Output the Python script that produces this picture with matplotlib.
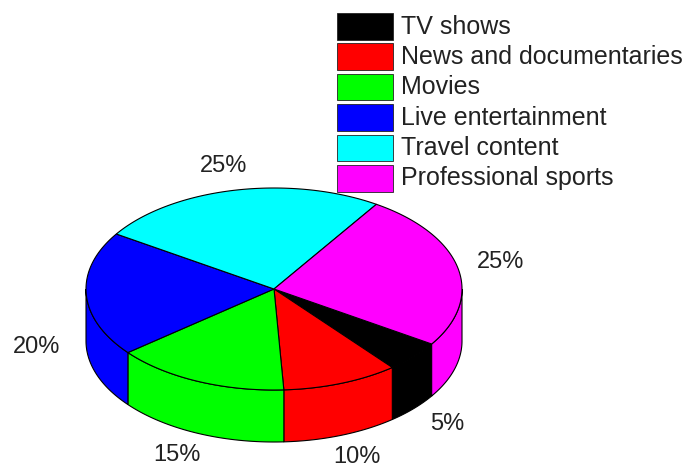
import numpy as np
import matplotlib.pyplot as plt
from matplotlib.patches import Polygon, Rectangle

plt.rcParams['font.family'] = ['Liberation Sans', 'DejaVu Sans']

CATEGORIES = ['TV shows', 'News and documentaries', 'Movies',
              'Live entertainment', 'Travel content', 'Professional sports']
VALUES = [5, 10, 15, 20, 25, 25]
COLORS = ['#000000', '#ff0000', '#00ff00', '#0000ff', '#00ffff', '#ff00ff']
LABEL_POS = [(447, 424), (357, 457), (177, 455), (37, 347), (224, 166), (501, 262)]

CX, CY = 274, 289
RX, RY = 188, 101
DEPTH = 52
START = -33
TEXT_COLOR = '#222222'


def arc(a0, a1, n=80):
    t = np.radians(np.linspace(a0, a1, n))
    return CX + RX * np.cos(t), CY - RY * np.sin(t)


fig = plt.figure(figsize=(6.86, 4.68), dpi=100)
ax = fig.add_axes([0, 0, 1, 1])
ax.set_xlim(0, 686)
ax.set_ylim(468, 0)
ax.axis('off')

# slices run clockwise from the start angle
angles = START - np.cumsum([0] + VALUES) * 3.6

# side walls, only the front half of the rim shows
for i, color in enumerate(COLORS):
    for shift in (0, 360):
        hi = min(angles[i] + shift, 0)
        lo = max(angles[i + 1] + shift, -180)
        if lo >= hi:
            continue
        x, y = arc(hi, lo)
        pts = np.column_stack([np.r_[x, x[::-1]], np.r_[y, y[::-1] + DEPTH]])
        ax.add_patch(Polygon(pts, closed=True, fc=color, ec='black', lw=0.8, zorder=2))

# top face
for i, color in enumerate(COLORS):
    x, y = arc(angles[i], angles[i + 1])
    pts = np.column_stack([np.r_[CX, x], np.r_[CY, y]])
    ax.add_patch(Polygon(pts, closed=True, fc=color, ec='black', lw=0.8, zorder=3))

for v, (x, y) in zip(VALUES, LABEL_POS):
    ax.text(x, y, f'{v}%', ha='center', va='center', fontsize=17, color=TEXT_COLOR)

# legend
for i, (name, color) in enumerate(zip(CATEGORIES, COLORS)):
    top = 13 + i * 30.4
    ax.add_patch(Rectangle((336.5, top), 56.5, 26.5, fc=color, ec='#222222', lw=0.6))
    ax.text(401, top + 13.5, name, ha='left', va='center', fontsize=18, color=TEXT_COLOR)

fig.savefig('out.png', dpi=100)
